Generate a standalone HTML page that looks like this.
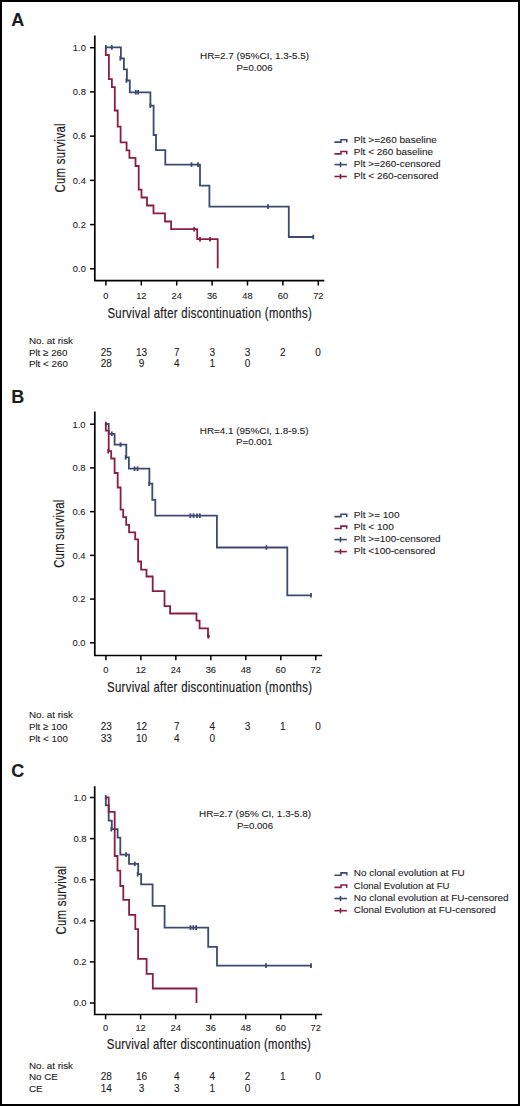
<!DOCTYPE html>
<html><head><meta charset="utf-8"><title>KM curves</title>
<style>html,body{margin:0;padding:0;background:#fff;width:520px;height:1106px;overflow:hidden}</style>
</head><body>
<svg width="520" height="1106" viewBox="0 0 520 1106" style="display:block">
<rect x="0" y="0" width="520" height="1106" fill="#fff"/>
<g font-family='"Liberation Sans", sans-serif' fill="#1c1c1c" stroke="#1c1c1c" stroke-width="0.1">
<path d="M94.8,35.4 L94.8,280.7 L324.3,280.7" fill="none" stroke="#000" stroke-width="1.7" stroke-linejoin="miter" stroke-linecap="butt"/>
<line x1="90.00" y1="268.80" x2="94.80" y2="268.80" stroke="#000" stroke-width="1.5"/>
<text x="85.9" y="272.10" font-size="9.4" text-anchor="end" font-weight="normal">0.0</text>
<line x1="90.00" y1="224.58" x2="94.80" y2="224.58" stroke="#000" stroke-width="1.5"/>
<text x="85.9" y="227.88" font-size="9.4" text-anchor="end" font-weight="normal">0.2</text>
<line x1="90.00" y1="180.36" x2="94.80" y2="180.36" stroke="#000" stroke-width="1.5"/>
<text x="85.9" y="183.66" font-size="9.4" text-anchor="end" font-weight="normal">0.4</text>
<line x1="90.00" y1="136.14" x2="94.80" y2="136.14" stroke="#000" stroke-width="1.5"/>
<text x="85.9" y="139.44" font-size="9.4" text-anchor="end" font-weight="normal">0.6</text>
<line x1="90.00" y1="91.92" x2="94.80" y2="91.92" stroke="#000" stroke-width="1.5"/>
<text x="85.9" y="95.22" font-size="9.4" text-anchor="end" font-weight="normal">0.8</text>
<line x1="90.00" y1="47.70" x2="94.80" y2="47.70" stroke="#000" stroke-width="1.5"/>
<text x="85.9" y="51.00" font-size="9.4" text-anchor="end" font-weight="normal">1.0</text>
<line x1="105.90" y1="280.70" x2="105.90" y2="285.50" stroke="#000" stroke-width="1.5"/>
<text x="105.90" y="299.1" font-size="9.3" text-anchor="middle" font-weight="normal">0</text>
<line x1="141.30" y1="280.70" x2="141.30" y2="285.50" stroke="#000" stroke-width="1.5"/>
<text x="141.30" y="299.1" font-size="9.3" text-anchor="middle" font-weight="normal">12</text>
<line x1="176.70" y1="280.70" x2="176.70" y2="285.50" stroke="#000" stroke-width="1.5"/>
<text x="176.70" y="299.1" font-size="9.3" text-anchor="middle" font-weight="normal">24</text>
<line x1="212.10" y1="280.70" x2="212.10" y2="285.50" stroke="#000" stroke-width="1.5"/>
<text x="212.10" y="299.1" font-size="9.3" text-anchor="middle" font-weight="normal">36</text>
<line x1="247.50" y1="280.70" x2="247.50" y2="285.50" stroke="#000" stroke-width="1.5"/>
<text x="247.50" y="299.1" font-size="9.3" text-anchor="middle" font-weight="normal">48</text>
<line x1="282.90" y1="280.70" x2="282.90" y2="285.50" stroke="#000" stroke-width="1.5"/>
<text x="282.90" y="299.1" font-size="9.3" text-anchor="middle" font-weight="normal">60</text>
<line x1="318.30" y1="280.70" x2="318.30" y2="285.50" stroke="#000" stroke-width="1.5"/>
<text x="318.30" y="299.1" font-size="9.3" text-anchor="middle" font-weight="normal">72</text>
<text transform="translate(107.5,317.7) scale(0.8,1)" x="0" y="0" font-size="14.2" stroke-width="0.2" textLength="255.25" lengthAdjust="spacing">Survival after discontinuation (months)</text>
<text transform="translate(64.9,192.6) rotate(-90) scale(0.78,1)" x="0" y="0" font-size="14.6" stroke-width="0.2" textLength="88.72" lengthAdjust="spacing">Cum survival</text>
<text x="254.5" y="59.4" font-size="9.6" text-anchor="middle" font-weight="normal" textLength="109.0" lengthAdjust="spacingAndGlyphs">HR=2.7 (95%CI, 1.3-5.5)</text>
<text x="254.5" y="71.0" font-size="9.6" text-anchor="middle" font-weight="normal" textLength="36.2" lengthAdjust="spacingAndGlyphs">P=0.006</text>
<path d="M334.4,142.10 L341.0,142.10 L341.0,139.70 L346.7,139.70 L346.7,142.40" fill="none" stroke="#3c4a72" stroke-width="1.6"/>
<text x="353.8" y="143.20" font-size="9.9" text-anchor="start" font-weight="normal" textLength="83.10000000000001" lengthAdjust="spacingAndGlyphs">Plt &gt;=260 baseline</text>
<path d="M334.4,153.90 L341.0,153.90 L341.0,151.50 L346.7,151.50 L346.7,154.20" fill="none" stroke="#8a1e42" stroke-width="1.6"/>
<text x="353.8" y="155.00" font-size="9.9" text-anchor="start" font-weight="normal" textLength="79.2" lengthAdjust="spacingAndGlyphs">Plt &lt; 260 baseline</text>
<line x1="334.4" y1="164.60" x2="346.9" y2="164.60" stroke="#3c4a72" stroke-width="1.6"/>
<line x1="340.5" y1="162.00" x2="340.5" y2="167.20" stroke="#3c4a72" stroke-width="1.6"/>
<text x="353.8" y="166.90" font-size="9.9" text-anchor="start" font-weight="normal" textLength="86.8" lengthAdjust="spacingAndGlyphs">Plt &gt;=260-censored</text>
<line x1="334.4" y1="176.50" x2="346.9" y2="176.50" stroke="#8a1e42" stroke-width="1.6"/>
<line x1="340.5" y1="173.90" x2="340.5" y2="179.10" stroke="#8a1e42" stroke-width="1.6"/>
<text x="353.8" y="178.80" font-size="9.9" text-anchor="start" font-weight="normal" textLength="84.5" lengthAdjust="spacingAndGlyphs">Plt &lt; 260-censored</text>
<text x="28.9" y="344.2" font-size="9.8" text-anchor="start" font-weight="normal">No. at risk</text>
<text x="28.9" y="355.8" font-size="9.8" text-anchor="start" font-weight="normal">Plt ≥ 260</text>
<text x="106.30" y="355.8" font-size="10.0" text-anchor="middle" font-weight="normal">25</text>
<text x="141.60" y="355.8" font-size="10.0" text-anchor="middle" font-weight="normal">13</text>
<text x="176.90" y="355.8" font-size="10.0" text-anchor="middle" font-weight="normal">7</text>
<text x="212.20" y="355.8" font-size="10.0" text-anchor="middle" font-weight="normal">3</text>
<text x="247.50" y="355.8" font-size="10.0" text-anchor="middle" font-weight="normal">3</text>
<text x="282.80" y="355.8" font-size="10.0" text-anchor="middle" font-weight="normal">2</text>
<text x="318.10" y="355.8" font-size="10.0" text-anchor="middle" font-weight="normal">0</text>
<text x="28.9" y="367.4" font-size="9.8" text-anchor="start" font-weight="normal">Plt &lt; 260</text>
<text x="106.30" y="367.4" font-size="10.0" text-anchor="middle" font-weight="normal">28</text>
<text x="141.60" y="367.4" font-size="10.0" text-anchor="middle" font-weight="normal">9</text>
<text x="176.90" y="367.4" font-size="10.0" text-anchor="middle" font-weight="normal">4</text>
<text x="212.20" y="367.4" font-size="10.0" text-anchor="middle" font-weight="normal">1</text>
<text x="247.50" y="367.4" font-size="10.0" text-anchor="middle" font-weight="normal">0</text>
<path d="M105.80,47.40 L105.80,47.40 L105.80,55.00 L108.90,55.00 L108.90,79.20 L111.90,79.20 L111.90,87.10 L114.80,87.10 L114.80,110.50 L117.70,110.50 L117.70,126.70 L120.60,126.70 L120.60,142.40 L126.60,142.40 L126.60,150.40 L129.40,150.40 L129.40,157.90 L135.50,157.90 L135.50,166.00 L138.70,166.00 L138.70,189.60 L141.50,189.60 L141.50,197.50 L147.00,197.50 L147.00,205.50 L153.50,205.50 L153.50,213.30 L165.00,213.30 L165.00,221.50 L171.10,221.50 L171.10,229.20 L197.20,229.20 L197.20,239.20 L217.70,239.20 L217.70,268.30" fill="none" stroke="#8a1e42" stroke-width="1.8" stroke-linejoin="miter" stroke-linecap="butt"/>
<line x1="194.20" y1="226.90" x2="194.20" y2="231.50" stroke="#8a1e42" stroke-width="1.8"/>
<line x1="200.00" y1="236.90" x2="200.00" y2="241.50" stroke="#8a1e42" stroke-width="1.8"/>
<line x1="210.00" y1="236.90" x2="210.00" y2="241.50" stroke="#8a1e42" stroke-width="1.8"/>
<path d="M105.80,47.40 L120.90,47.40 L120.90,58.30 L123.90,58.30 L123.90,69.30 L126.90,69.30 L126.90,80.50 L129.80,80.50 L129.80,92.30 L150.40,92.30 L150.40,105.70 L153.60,105.70 L153.60,135.00 L156.00,135.00 L156.00,150.10 L165.30,150.10 L165.30,164.60 L200.00,164.60 L200.00,185.70 L209.40,185.70 L209.40,206.60 L288.80,206.60 L288.80,237.00 L314.00,237.00" fill="none" stroke="#3c4a72" stroke-width="1.8" stroke-linejoin="miter" stroke-linecap="butt"/>
<line x1="105.90" y1="45.10" x2="105.90" y2="49.70" stroke="#3c4a72" stroke-width="1.8"/>
<line x1="111.80" y1="45.10" x2="111.80" y2="49.70" stroke="#3c4a72" stroke-width="1.8"/>
<line x1="120.30" y1="56.00" x2="120.30" y2="60.60" stroke="#3c4a72" stroke-width="1.8"/>
<line x1="126.40" y1="78.20" x2="126.40" y2="82.80" stroke="#3c4a72" stroke-width="1.8"/>
<line x1="135.80" y1="90.00" x2="135.80" y2="94.60" stroke="#3c4a72" stroke-width="1.8"/>
<line x1="138.10" y1="90.00" x2="138.10" y2="94.60" stroke="#3c4a72" stroke-width="1.8"/>
<line x1="150.40" y1="103.40" x2="150.40" y2="108.00" stroke="#3c4a72" stroke-width="1.8"/>
<line x1="191.50" y1="162.30" x2="191.50" y2="166.90" stroke="#3c4a72" stroke-width="1.8"/>
<line x1="198.00" y1="162.30" x2="198.00" y2="166.90" stroke="#3c4a72" stroke-width="1.8"/>
<line x1="268.00" y1="204.30" x2="268.00" y2="208.90" stroke="#3c4a72" stroke-width="1.8"/>
<line x1="313.30" y1="234.70" x2="313.30" y2="239.30" stroke="#3c4a72" stroke-width="1.8"/>
<text x="11.2" y="26.0" font-size="18" text-anchor="start" font-weight="bold">A</text>
<path d="M94.8,411.5 L94.8,655.5 L322.2,655.5" fill="none" stroke="#000" stroke-width="1.7" stroke-linejoin="miter" stroke-linecap="butt"/>
<line x1="90.00" y1="642.80" x2="94.80" y2="642.80" stroke="#000" stroke-width="1.5"/>
<text x="85.5" y="646.10" font-size="9.4" text-anchor="end" font-weight="normal">0.0</text>
<line x1="90.00" y1="599.08" x2="94.80" y2="599.08" stroke="#000" stroke-width="1.5"/>
<text x="85.5" y="602.38" font-size="9.4" text-anchor="end" font-weight="normal">0.2</text>
<line x1="90.00" y1="555.36" x2="94.80" y2="555.36" stroke="#000" stroke-width="1.5"/>
<text x="85.5" y="558.66" font-size="9.4" text-anchor="end" font-weight="normal">0.4</text>
<line x1="90.00" y1="511.64" x2="94.80" y2="511.64" stroke="#000" stroke-width="1.5"/>
<text x="85.5" y="514.94" font-size="9.4" text-anchor="end" font-weight="normal">0.6</text>
<line x1="90.00" y1="467.92" x2="94.80" y2="467.92" stroke="#000" stroke-width="1.5"/>
<text x="85.5" y="471.22" font-size="9.4" text-anchor="end" font-weight="normal">0.8</text>
<line x1="90.00" y1="424.20" x2="94.80" y2="424.20" stroke="#000" stroke-width="1.5"/>
<text x="85.5" y="427.50" font-size="9.4" text-anchor="end" font-weight="normal">1.0</text>
<line x1="105.90" y1="655.50" x2="105.90" y2="660.30" stroke="#000" stroke-width="1.5"/>
<text x="105.90" y="673.3" font-size="9.3" text-anchor="middle" font-weight="normal">0</text>
<line x1="140.88" y1="655.50" x2="140.88" y2="660.30" stroke="#000" stroke-width="1.5"/>
<text x="140.88" y="673.3" font-size="9.3" text-anchor="middle" font-weight="normal">12</text>
<line x1="175.85" y1="655.50" x2="175.85" y2="660.30" stroke="#000" stroke-width="1.5"/>
<text x="175.85" y="673.3" font-size="9.3" text-anchor="middle" font-weight="normal">24</text>
<line x1="210.82" y1="655.50" x2="210.82" y2="660.30" stroke="#000" stroke-width="1.5"/>
<text x="210.82" y="673.3" font-size="9.3" text-anchor="middle" font-weight="normal">36</text>
<line x1="245.80" y1="655.50" x2="245.80" y2="660.30" stroke="#000" stroke-width="1.5"/>
<text x="245.80" y="673.3" font-size="9.3" text-anchor="middle" font-weight="normal">48</text>
<line x1="280.77" y1="655.50" x2="280.77" y2="660.30" stroke="#000" stroke-width="1.5"/>
<text x="280.77" y="673.3" font-size="9.3" text-anchor="middle" font-weight="normal">60</text>
<line x1="315.75" y1="655.50" x2="315.75" y2="660.30" stroke="#000" stroke-width="1.5"/>
<text x="315.75" y="673.3" font-size="9.3" text-anchor="middle" font-weight="normal">72</text>
<text transform="translate(107.1,692.0) scale(0.8,1)" x="0" y="0" font-size="14.2" stroke-width="0.2" textLength="256.12" lengthAdjust="spacing">Survival after discontinuation (months)</text>
<text transform="translate(64.4,567.8) rotate(-90) scale(0.78,1)" x="0" y="0" font-size="14.6" stroke-width="0.2" textLength="87.18" lengthAdjust="spacing">Cum survival</text>
<text x="254.2" y="433.6" font-size="9.6" text-anchor="middle" font-weight="normal" textLength="108.8" lengthAdjust="spacingAndGlyphs">HR=4.1 (95%CI, 1.8-9.5)</text>
<text x="254.2" y="445.3" font-size="9.6" text-anchor="middle" font-weight="normal" textLength="36.2" lengthAdjust="spacingAndGlyphs">P=0.001</text>
<path d="M334.4,516.60 L341.0,516.60 L341.0,514.20 L346.7,514.20 L346.7,516.90" fill="none" stroke="#3c4a72" stroke-width="1.6"/>
<text x="353.8" y="517.70" font-size="9.9" text-anchor="start" font-weight="normal" textLength="45.7" lengthAdjust="spacingAndGlyphs">Plt &gt;= 100</text>
<path d="M334.4,528.50 L341.0,528.50 L341.0,526.10 L346.7,526.10 L346.7,528.80" fill="none" stroke="#8a1e42" stroke-width="1.6"/>
<text x="353.8" y="529.60" font-size="9.9" text-anchor="start" font-weight="normal" textLength="40.0" lengthAdjust="spacingAndGlyphs">Plt &lt; 100</text>
<line x1="334.4" y1="539.60" x2="346.9" y2="539.60" stroke="#3c4a72" stroke-width="1.6"/>
<line x1="340.5" y1="537.00" x2="340.5" y2="542.20" stroke="#3c4a72" stroke-width="1.6"/>
<text x="353.8" y="541.90" font-size="9.9" text-anchor="start" font-weight="normal" textLength="86.8" lengthAdjust="spacingAndGlyphs">Plt &gt;=100-censored</text>
<line x1="334.4" y1="551.60" x2="346.9" y2="551.60" stroke="#8a1e42" stroke-width="1.6"/>
<line x1="340.5" y1="549.00" x2="340.5" y2="554.20" stroke="#8a1e42" stroke-width="1.6"/>
<text x="353.8" y="553.90" font-size="9.9" text-anchor="start" font-weight="normal" textLength="81.5" lengthAdjust="spacingAndGlyphs">Plt &lt;100-censored</text>
<text x="28.9" y="718.3" font-size="9.8" text-anchor="start" font-weight="normal">No. at risk</text>
<text x="28.9" y="730.0" font-size="9.8" text-anchor="start" font-weight="normal">Plt ≥ 100</text>
<text x="106.30" y="730.0" font-size="10.0" text-anchor="middle" font-weight="normal">23</text>
<text x="141.60" y="730.0" font-size="10.0" text-anchor="middle" font-weight="normal">12</text>
<text x="176.90" y="730.0" font-size="10.0" text-anchor="middle" font-weight="normal">7</text>
<text x="212.20" y="730.0" font-size="10.0" text-anchor="middle" font-weight="normal">4</text>
<text x="247.50" y="730.0" font-size="10.0" text-anchor="middle" font-weight="normal">3</text>
<text x="282.80" y="730.0" font-size="10.0" text-anchor="middle" font-weight="normal">1</text>
<text x="318.10" y="730.0" font-size="10.0" text-anchor="middle" font-weight="normal">0</text>
<text x="28.9" y="741.7" font-size="9.8" text-anchor="start" font-weight="normal">Plt &lt; 100</text>
<text x="106.30" y="741.7" font-size="10.0" text-anchor="middle" font-weight="normal">33</text>
<text x="141.60" y="741.7" font-size="10.0" text-anchor="middle" font-weight="normal">10</text>
<text x="176.90" y="741.7" font-size="10.0" text-anchor="middle" font-weight="normal">4</text>
<text x="212.20" y="741.7" font-size="10.0" text-anchor="middle" font-weight="normal">0</text>
<path d="M105.80,424.00 L108.70,424.00 L108.70,433.80 L114.60,433.80 L114.60,444.70 L126.30,444.70 L126.30,457.30 L128.90,457.30 L128.90,468.70 L149.40,468.70 L149.40,483.70 L152.30,483.70 L152.30,499.80 L155.30,499.80 L155.30,515.70 L216.90,515.70 L216.90,547.50 L287.30,547.50 L287.30,595.30 L311.50,595.30" fill="none" stroke="#3c4a72" stroke-width="1.8" stroke-linejoin="miter" stroke-linecap="butt"/>
<line x1="111.80" y1="431.50" x2="111.80" y2="436.10" stroke="#3c4a72" stroke-width="1.8"/>
<line x1="120.50" y1="442.40" x2="120.50" y2="447.00" stroke="#3c4a72" stroke-width="1.8"/>
<line x1="125.60" y1="455.00" x2="125.60" y2="459.60" stroke="#3c4a72" stroke-width="1.8"/>
<line x1="134.60" y1="466.40" x2="134.60" y2="471.00" stroke="#3c4a72" stroke-width="1.8"/>
<line x1="137.50" y1="466.40" x2="137.50" y2="471.00" stroke="#3c4a72" stroke-width="1.8"/>
<line x1="149.20" y1="481.40" x2="149.20" y2="486.00" stroke="#3c4a72" stroke-width="1.8"/>
<line x1="190.40" y1="513.40" x2="190.40" y2="518.00" stroke="#3c4a72" stroke-width="1.8"/>
<line x1="193.60" y1="513.40" x2="193.60" y2="518.00" stroke="#3c4a72" stroke-width="1.8"/>
<line x1="197.00" y1="513.40" x2="197.00" y2="518.00" stroke="#3c4a72" stroke-width="1.8"/>
<line x1="199.80" y1="513.40" x2="199.80" y2="518.00" stroke="#3c4a72" stroke-width="1.8"/>
<line x1="266.40" y1="545.20" x2="266.40" y2="549.80" stroke="#3c4a72" stroke-width="1.8"/>
<line x1="311.00" y1="593.00" x2="311.00" y2="597.60" stroke="#3c4a72" stroke-width="1.8"/>
<path d="M105.80,424.00 L105.80,424.00 L105.80,430.60 L108.70,430.60 L108.70,451.20 L111.20,451.20 L111.20,458.50 L114.60,458.50 L114.60,473.00 L117.70,473.00 L117.70,487.50 L120.60,487.50 L120.60,509.70 L123.20,509.70 L123.20,517.10 L126.20,517.10 L126.20,524.80 L129.10,524.80 L129.10,532.30 L135.20,532.30 L135.20,539.40 L138.10,539.40 L138.10,561.50 L141.10,561.50 L141.10,569.60 L146.50,569.60 L146.50,576.50 L152.70,576.50 L152.70,591.20 L164.50,591.20 L164.50,606.20 L170.10,606.20 L170.10,613.50 L196.50,613.50 L196.50,620.70 L199.60,620.70 L199.60,628.40 L208.00,628.40 L208.00,636.30 L210.00,636.30" fill="none" stroke="#8a1e42" stroke-width="1.8" stroke-linejoin="miter" stroke-linecap="butt"/>
<line x1="105.80" y1="421.70" x2="105.80" y2="426.30" stroke="#8a1e42" stroke-width="1.8"/>
<line x1="108.20" y1="448.90" x2="108.20" y2="453.50" stroke="#8a1e42" stroke-width="1.8"/>
<line x1="208.30" y1="634.00" x2="208.30" y2="638.60" stroke="#8a1e42" stroke-width="1.8"/>
<text x="11.2" y="402.9" font-size="18" text-anchor="start" font-weight="bold">B</text>
<path d="M94.7,786.25 L94.7,1014.5 L322.2,1014.5" fill="none" stroke="#000" stroke-width="1.7" stroke-linejoin="miter" stroke-linecap="butt"/>
<line x1="89.90" y1="1003.00" x2="94.70" y2="1003.00" stroke="#000" stroke-width="1.5"/>
<text x="86.5" y="1006.30" font-size="9.4" text-anchor="end" font-weight="normal">0.0</text>
<line x1="89.90" y1="961.90" x2="94.70" y2="961.90" stroke="#000" stroke-width="1.5"/>
<text x="86.5" y="965.20" font-size="9.4" text-anchor="end" font-weight="normal">0.2</text>
<line x1="89.90" y1="920.80" x2="94.70" y2="920.80" stroke="#000" stroke-width="1.5"/>
<text x="86.5" y="924.10" font-size="9.4" text-anchor="end" font-weight="normal">0.4</text>
<line x1="89.90" y1="879.70" x2="94.70" y2="879.70" stroke="#000" stroke-width="1.5"/>
<text x="86.5" y="883.00" font-size="9.4" text-anchor="end" font-weight="normal">0.6</text>
<line x1="89.90" y1="838.60" x2="94.70" y2="838.60" stroke="#000" stroke-width="1.5"/>
<text x="86.5" y="841.90" font-size="9.4" text-anchor="end" font-weight="normal">0.8</text>
<line x1="89.90" y1="797.50" x2="94.70" y2="797.50" stroke="#000" stroke-width="1.5"/>
<text x="86.5" y="800.80" font-size="9.4" text-anchor="end" font-weight="normal">1.0</text>
<line x1="105.60" y1="1014.50" x2="105.60" y2="1019.30" stroke="#000" stroke-width="1.5"/>
<text x="105.60" y="1030.9" font-size="9.3" text-anchor="middle" font-weight="normal">0</text>
<line x1="140.62" y1="1014.50" x2="140.62" y2="1019.30" stroke="#000" stroke-width="1.5"/>
<text x="140.62" y="1030.9" font-size="9.3" text-anchor="middle" font-weight="normal">12</text>
<line x1="175.65" y1="1014.50" x2="175.65" y2="1019.30" stroke="#000" stroke-width="1.5"/>
<text x="175.65" y="1030.9" font-size="9.3" text-anchor="middle" font-weight="normal">24</text>
<line x1="210.68" y1="1014.50" x2="210.68" y2="1019.30" stroke="#000" stroke-width="1.5"/>
<text x="210.68" y="1030.9" font-size="9.3" text-anchor="middle" font-weight="normal">36</text>
<line x1="245.70" y1="1014.50" x2="245.70" y2="1019.30" stroke="#000" stroke-width="1.5"/>
<text x="245.70" y="1030.9" font-size="9.3" text-anchor="middle" font-weight="normal">48</text>
<line x1="280.73" y1="1014.50" x2="280.73" y2="1019.30" stroke="#000" stroke-width="1.5"/>
<text x="280.73" y="1030.9" font-size="9.3" text-anchor="middle" font-weight="normal">60</text>
<line x1="315.75" y1="1014.50" x2="315.75" y2="1019.30" stroke="#000" stroke-width="1.5"/>
<text x="315.75" y="1030.9" font-size="9.3" text-anchor="middle" font-weight="normal">72</text>
<text transform="translate(106.8,1049.4) scale(0.8,1)" x="0" y="0" font-size="14.2" stroke-width="0.2" textLength="255.00" lengthAdjust="spacing">Survival after discontinuation (months)</text>
<text transform="translate(65.5,934.4) rotate(-90) scale(0.78,1)" x="0" y="0" font-size="14.6" stroke-width="0.2" textLength="87.69" lengthAdjust="spacing">Cum survival</text>
<text x="255.0" y="816.8" font-size="9.6" text-anchor="middle" font-weight="normal" textLength="112.0" lengthAdjust="spacingAndGlyphs">HR=2.7 (95% CI, 1.3-5.8)</text>
<text x="255.0" y="828.8" font-size="9.6" text-anchor="middle" font-weight="normal" textLength="36.2" lengthAdjust="spacingAndGlyphs">P=0.006</text>
<path d="M334.4,875.30 L341.0,875.30 L341.0,872.90 L346.7,872.90 L346.7,875.60" fill="none" stroke="#3c4a72" stroke-width="1.6"/>
<text x="353.8" y="876.40" font-size="9.9" text-anchor="start" font-weight="normal" textLength="110.8" lengthAdjust="spacingAndGlyphs">No clonal evolution at FU</text>
<path d="M334.4,887.40 L341.0,887.40 L341.0,885.00 L346.7,885.00 L346.7,887.70" fill="none" stroke="#8a1e42" stroke-width="1.6"/>
<text x="353.8" y="888.50" font-size="9.9" text-anchor="start" font-weight="normal" textLength="95.7" lengthAdjust="spacingAndGlyphs">Clonal Evolution at FU</text>
<line x1="334.4" y1="898.50" x2="346.9" y2="898.50" stroke="#3c4a72" stroke-width="1.6"/>
<line x1="340.5" y1="895.90" x2="340.5" y2="901.10" stroke="#3c4a72" stroke-width="1.6"/>
<text x="353.8" y="900.80" font-size="9.9" text-anchor="start" font-weight="normal" textLength="154.79999999999998" lengthAdjust="spacingAndGlyphs">No clonal evolution at FU-censored</text>
<line x1="334.4" y1="910.70" x2="346.9" y2="910.70" stroke="#8a1e42" stroke-width="1.6"/>
<line x1="340.5" y1="908.10" x2="340.5" y2="913.30" stroke="#8a1e42" stroke-width="1.6"/>
<text x="353.8" y="913.00" font-size="9.9" text-anchor="start" font-weight="normal" textLength="142.0" lengthAdjust="spacingAndGlyphs">Clonal Evolution at FU-censored</text>
<text x="28.9" y="1068.9" font-size="9.8" text-anchor="start" font-weight="normal">No. at risk</text>
<text x="28.9" y="1080.0" font-size="9.8" text-anchor="start" font-weight="normal">No CE</text>
<text x="106.30" y="1080.0" font-size="10.0" text-anchor="middle" font-weight="normal">28</text>
<text x="141.60" y="1080.0" font-size="10.0" text-anchor="middle" font-weight="normal">16</text>
<text x="176.90" y="1080.0" font-size="10.0" text-anchor="middle" font-weight="normal">4</text>
<text x="212.20" y="1080.0" font-size="10.0" text-anchor="middle" font-weight="normal">4</text>
<text x="247.50" y="1080.0" font-size="10.0" text-anchor="middle" font-weight="normal">2</text>
<text x="282.80" y="1080.0" font-size="10.0" text-anchor="middle" font-weight="normal">1</text>
<text x="318.10" y="1080.0" font-size="10.0" text-anchor="middle" font-weight="normal">0</text>
<text x="28.9" y="1091.5" font-size="9.8" text-anchor="start" font-weight="normal">CE</text>
<text x="106.30" y="1091.5" font-size="10.0" text-anchor="middle" font-weight="normal">14</text>
<text x="141.60" y="1091.5" font-size="10.0" text-anchor="middle" font-weight="normal">3</text>
<text x="176.90" y="1091.5" font-size="10.0" text-anchor="middle" font-weight="normal">3</text>
<text x="212.20" y="1091.5" font-size="10.0" text-anchor="middle" font-weight="normal">1</text>
<text x="247.50" y="1091.5" font-size="10.0" text-anchor="middle" font-weight="normal">0</text>
<path d="M105.80,797.40 L105.80,797.40 L105.80,805.30 L108.70,805.30 L108.70,820.60 L111.80,820.60 L111.80,829.20 L117.60,829.20 L117.60,837.60 L120.30,837.60 L120.30,854.60 L129.00,854.60 L129.00,863.80 L138.20,863.80 L138.20,874.20 L141.10,874.20 L141.10,884.40 L152.60,884.40 L152.60,905.90 L164.60,905.90 L164.60,927.60 L208.20,927.60 L208.20,946.90 L217.00,946.90 L217.00,965.60 L311.50,965.60" fill="none" stroke="#3c4a72" stroke-width="1.8" stroke-linejoin="miter" stroke-linecap="butt"/>
<line x1="105.80" y1="795.10" x2="105.80" y2="799.70" stroke="#3c4a72" stroke-width="1.8"/>
<line x1="111.30" y1="826.90" x2="111.30" y2="831.50" stroke="#3c4a72" stroke-width="1.8"/>
<line x1="126.10" y1="852.30" x2="126.10" y2="856.90" stroke="#3c4a72" stroke-width="1.8"/>
<line x1="134.80" y1="861.50" x2="134.80" y2="866.10" stroke="#3c4a72" stroke-width="1.8"/>
<line x1="137.70" y1="871.90" x2="137.70" y2="876.50" stroke="#3c4a72" stroke-width="1.8"/>
<line x1="190.50" y1="925.30" x2="190.50" y2="929.90" stroke="#3c4a72" stroke-width="1.8"/>
<line x1="193.30" y1="925.30" x2="193.30" y2="929.90" stroke="#3c4a72" stroke-width="1.8"/>
<line x1="196.10" y1="925.30" x2="196.10" y2="929.90" stroke="#3c4a72" stroke-width="1.8"/>
<line x1="266.00" y1="963.30" x2="266.00" y2="967.90" stroke="#3c4a72" stroke-width="1.8"/>
<line x1="311.00" y1="963.30" x2="311.00" y2="967.90" stroke="#3c4a72" stroke-width="1.8"/>
<path d="M105.80,797.40 L108.70,797.40 L108.70,811.90 L114.70,811.90 L114.70,856.00 L117.50,856.00 L117.50,870.60 L120.30,870.60 L120.30,886.00 L123.30,886.00 L123.30,899.80 L129.10,899.80 L129.10,914.80 L135.30,914.80 L135.30,929.20 L138.10,929.20 L138.10,958.90 L146.60,958.90 L146.60,973.80 L152.80,973.80 L152.80,988.50 L196.50,988.50 L196.50,1003.00" fill="none" stroke="#8a1e42" stroke-width="1.8" stroke-linejoin="miter" stroke-linecap="butt"/>
<text x="11.2" y="777.3" font-size="18" text-anchor="start" font-weight="bold">C</text>
</g>
<rect x="1" y="1" width="518" height="1104" fill="none" stroke="#000" stroke-width="2"/>
</svg>
</body></html>
